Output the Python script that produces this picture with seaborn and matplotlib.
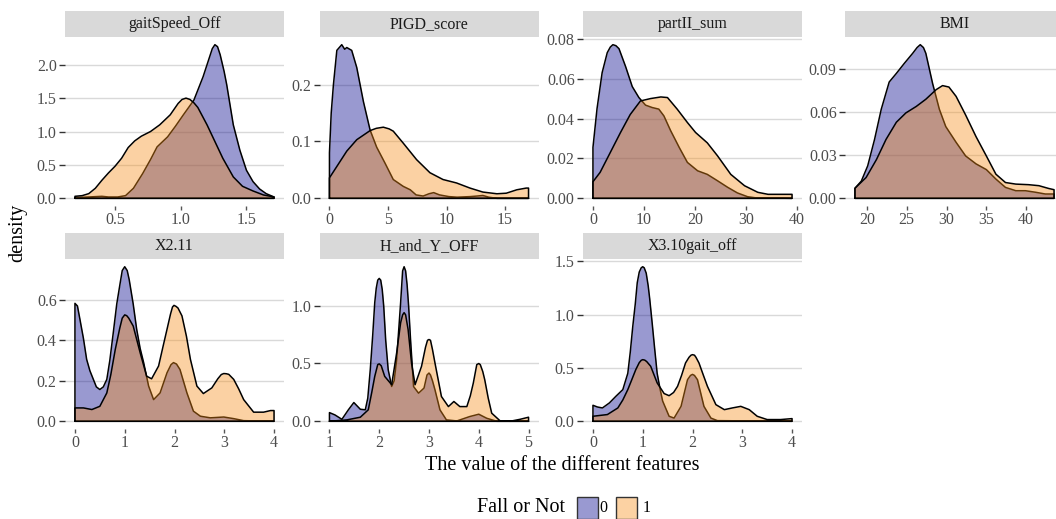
import matplotlib
matplotlib.use("Agg")
import matplotlib.pyplot as plt
from matplotlib.patches import Rectangle
import numpy as np
import pandas as pd
import seaborn as sns

# ---- density estimates per feature, group 0 (no fall) and group 1 (fall) ----
gait_x0 = [0.195, 0.30, 0.40, 0.45, 0.52, 0.58, 0.64, 0.71, 0.77, 0.82, 0.90, 0.96, 1.02, 1.10,
           1.17, 1.20, 1.22, 1.24, 1.26, 1.28, 1.30, 1.33, 1.35, 1.40, 1.45, 1.50, 1.55, 1.60,
           1.65, 1.71]
gait_d0 = [0.01, 0.02, 0.03, 0.02, 0.02, 0.04, 0.15, 0.37, 0.58, 0.77, 0.92, 1.08, 1.25, 1.47,
           1.82, 2.00, 2.12, 2.24, 2.30, 2.27, 2.15, 1.90, 1.70, 1.10, 0.72, 0.42, 0.25, 0.14,
           0.07, 0.02]
gait_x1 = [0.195, 0.25, 0.30, 0.35, 0.40, 0.45, 0.50, 0.55, 0.60, 0.65, 0.70, 0.77, 0.84, 0.92,
           0.98, 1.01, 1.04, 1.07, 1.10, 1.13, 1.20, 1.26, 1.32, 1.40, 1.47, 1.55, 1.63, 1.71]
gait_d1 = [0.03, 0.04, 0.07, 0.15, 0.27, 0.38, 0.48, 0.60, 0.76, 0.86, 0.93, 1.00, 1.10, 1.25,
           1.42, 1.48, 1.50, 1.48, 1.43, 1.36, 1.10, 0.85, 0.60, 0.32, 0.18, 0.11, 0.05, 0.02]

pigd_x0 = [0, 0.15, 0.34, 0.63, 1.05, 1.3, 1.48, 1.9, 2.33, 2.9, 3.47, 4.03, 4.74, 5.45, 6.3,
           6.9, 7.4, 8.0, 8.5, 8.9, 9.4, 10.2, 10.9, 12.0, 12.6, 13.1, 13.6, 14.3, 17]
pigd_d0 = [0.08, 0.15, 0.20, 0.26, 0.27, 0.262, 0.265, 0.26, 0.23, 0.17, 0.12, 0.09, 0.062, 0.033,
           0.021, 0.015, 0.006, 0.004, 0.008, 0.010, 0.006, 0.003, 0.002, 0.003, 0.004, 0.005,
           0.002, 0.0, 0.0]
pigd_x1 = [0, 0.63, 1.48, 2.33, 3.47, 4.0, 4.6, 5.1, 5.45, 6.3, 7.44, 8.58, 9.7, 10.85, 12, 13.1,
           14.3, 15.1, 16, 16.8, 17]
pigd_d1 = [0.036, 0.056, 0.083, 0.103, 0.119, 0.123, 0.125, 0.122, 0.118, 0.097, 0.068, 0.045,
           0.033, 0.027, 0.018, 0.011, 0.008, 0.009, 0.015, 0.018, 0.018]

part_x0 = [0, 0.8, 1.8, 2.8, 3.4, 3.9, 4.5, 5.1, 6.4, 7.7, 9, 10.3, 11.6, 12.9, 13.9, 15.2, 16.9,
           18.5, 20.5, 22.4, 24.4, 26.4, 28.3, 30.3, 32, 39]
part_d0 = [0.0255, 0.045, 0.063, 0.073, 0.0758, 0.077, 0.0765, 0.075, 0.066, 0.056, 0.0505,
           0.0467, 0.0455, 0.0447, 0.0413, 0.034, 0.0255, 0.018, 0.0138, 0.012, 0.0088, 0.0055,
           0.0027, 0.0008, 0.0002, 0.0]
part_x1 = [0, 1.4, 3.4, 5.4, 7.3, 9.3, 11.3, 13.3, 14.6, 16.5, 18.5, 20.1, 22.4, 24.4, 27, 29.7,
           32.3, 34.3, 39]
part_d1 = [0.0083, 0.013, 0.023, 0.033, 0.042, 0.0488, 0.050, 0.0508, 0.0505, 0.0447, 0.038,
           0.033, 0.0278, 0.0213, 0.012, 0.0063, 0.003, 0.002, 0.002]

bmi_x0 = [18.5, 19.3, 20.1, 20.96, 21.8, 22.8, 23.7, 24.7, 25.75, 26.3, 26.7, 27.1, 27.4, 28.25,
          29.1, 29.9, 31.2, 32.4, 33.7, 35, 36.2, 37.4, 38.7, 39.9, 41.2, 42.4, 43.5]
bmi_d0 = [0.007, 0.012, 0.0226, 0.041, 0.062, 0.081, 0.087, 0.094, 0.101, 0.105, 0.107, 0.105,
          0.101, 0.080, 0.062, 0.050, 0.039, 0.0295, 0.024, 0.020, 0.0134, 0.0076, 0.0053,
          0.0053, 0.0042, 0.003, 0.003]
bmi_x1 = [18.5, 19.9, 21.2, 22.4, 23.7, 24.9, 26.2, 27.4, 28.7, 29.5, 30.3, 31.2, 32.4, 33.7, 35,
          36.2, 37.4, 38.7, 40.3, 41.6, 42.8, 43.5]
bmi_d1 = [0.007, 0.0145, 0.027, 0.041, 0.053, 0.0595, 0.064, 0.069, 0.0757, 0.0785, 0.0775, 0.071,
          0.058, 0.043, 0.0295, 0.0168, 0.011, 0.0099, 0.0095, 0.0088, 0.0069, 0.006]

x211_x0 = [0, 0.05, 0.1, 0.17, 0.235, 0.3, 0.37, 0.43, 0.5, 0.57, 0.64, 0.7, 0.77, 0.84, 0.91,
           0.95, 1.0, 1.05, 1.09, 1.17, 1.24, 1.31, 1.38, 1.48, 1.58, 1.71, 1.85, 1.93, 1.98,
           2.04, 2.11, 2.25, 2.38, 2.52, 2.72, 2.99, 3.19, 3.39, 4]
x211_d0 = [0.583, 0.57, 0.504, 0.41, 0.306, 0.25, 0.207, 0.17, 0.157, 0.17, 0.207, 0.30, 0.438,
           0.58, 0.686, 0.745, 0.764, 0.745, 0.70, 0.58, 0.455, 0.36, 0.29, 0.174, 0.107, 0.14,
           0.24, 0.28, 0.29, 0.283, 0.256, 0.14, 0.05, 0.025, 0.017, 0.021, 0.013, 0.003, 0.0]
x211_x1 = [0, 0.17, 0.34, 0.5, 0.64, 0.72, 0.81, 0.9, 0.95, 1.0, 1.04, 1.08, 1.17, 1.31, 1.44,
           1.54, 1.68, 1.77, 1.85, 1.92, 1.96, 1.99, 2.03, 2.07, 2.15, 2.24, 2.32, 2.45, 2.58,
           2.75, 2.87, 2.94, 2.99, 3.04, 3.09, 3.19, 3.29, 3.39, 3.59, 3.79, 3.93, 4]
x211_d1 = [0.066, 0.066, 0.058, 0.074, 0.14, 0.23, 0.355, 0.46, 0.51, 0.526, 0.522, 0.51, 0.471,
           0.339, 0.223, 0.21, 0.273, 0.37, 0.455, 0.53, 0.565, 0.573, 0.568, 0.56, 0.521, 0.42,
           0.306, 0.174, 0.137, 0.165, 0.21, 0.231, 0.236, 0.235, 0.232, 0.207, 0.16, 0.107,
           0.045, 0.045, 0.053, 0.053]

hy_x0 = [1, 1.11, 1.25, 1.38, 1.49, 1.62, 1.72, 1.77, 1.82, 1.87, 1.91, 1.94, 1.97, 2.0, 2.03,
         2.06, 2.09, 2.13, 2.18, 2.25, 2.3, 2.35, 2.39, 2.43, 2.47, 2.5, 2.53, 2.56, 2.59, 2.63,
         2.69, 2.79, 2.9, 2.96, 3.0, 3.03, 3.07, 3.12, 3.22, 3.35, 3.56, 3.82, 4.0, 4.16, 4.36, 5]
hy_d0 = [0.075, 0.055, 0.017, 0.099, 0.162, 0.104, 0.099, 0.20, 0.446, 0.75, 1.026, 1.15, 1.22,
         1.235, 1.22, 1.14, 0.997, 0.70, 0.446, 0.301, 0.35, 0.533, 0.78, 1.026, 1.30, 1.336,
         1.30, 1.18, 1.00, 0.70, 0.30, 0.243, 0.287, 0.40, 0.417, 0.40, 0.35, 0.272, 0.099,
         0.012, 0.003, 0.041, 0.061, 0.026, 0.0, 0.0]
hy_x1 = [1, 1.35, 1.62, 1.78, 1.85, 1.91, 1.97, 2.0, 2.04, 2.11, 2.25, 2.35, 2.43, 2.47, 2.5,
         2.53, 2.58, 2.65, 2.72, 2.85, 2.93, 2.97, 3.0, 3.03, 3.07, 3.12, 3.25, 3.39, 3.5, 3.62,
         3.76, 3.83, 3.89, 3.96, 4.0, 4.03, 4.08, 4.12, 4.19, 4.26, 4.43, 4.63, 4.83, 5]
hy_d1 = [0.0, 0.012, 0.035, 0.099, 0.25, 0.388, 0.49, 0.496, 0.48, 0.388, 0.316, 0.591, 0.852,
         0.92, 0.939, 0.92, 0.794, 0.50, 0.316, 0.475, 0.64, 0.70, 0.707, 0.70, 0.62, 0.504,
         0.214, 0.127, 0.171, 0.127, 0.127, 0.22, 0.33, 0.49, 0.499, 0.49, 0.43, 0.359, 0.20,
         0.07, 0.003, 0.0, 0.017, 0.035]

gait310_x0 = [0, 0.09, 0.19, 0.33, 0.46, 0.6, 0.7, 0.75, 0.8, 0.85, 0.89, 0.93, 0.97, 1.0, 1.03,
              1.07, 1.11, 1.14, 1.19, 1.24, 1.29, 1.35, 1.4, 1.53, 1.63, 1.77, 1.9, 1.96, 2.0,
              2.04, 2.1, 2.23, 2.37, 2.5, 4]
gait310_d0 = [0.15, 0.134, 0.125, 0.172, 0.234, 0.297, 0.45, 0.65, 0.89, 1.10, 1.30, 1.40, 1.44,
              1.45, 1.44, 1.39, 1.27, 1.15, 0.92, 0.68, 0.45, 0.30, 0.19, 0.047, 0.03, 0.14,
              0.39, 0.43, 0.44, 0.43, 0.39, 0.14, 0.03, 0.006, 0.0]
gait310_x1 = [0, 0.29, 0.5, 0.6, 0.7, 0.78, 0.86, 0.93, 0.97, 1.0, 1.04, 1.08, 1.16, 1.29, 1.43,
              1.53, 1.62, 1.7, 1.78, 1.86, 1.93, 1.97, 2.0, 2.04, 2.07, 2.13, 2.22, 2.3, 2.47,
              2.64, 2.8, 2.97, 3.14, 3.3, 3.5, 3.77, 4]
gait310_d1 = [0.047, 0.063, 0.125, 0.20, 0.297, 0.39, 0.484, 0.55, 0.572, 0.578, 0.574, 0.56,
              0.516, 0.36, 0.26, 0.24, 0.27, 0.328, 0.43, 0.547, 0.60, 0.62, 0.625, 0.62, 0.60,
              0.547, 0.43, 0.328, 0.156, 0.109, 0.125, 0.14, 0.109, 0.047, 0.016, 0.016, 0.025]

features = ["gaitSpeed_Off", "PIGD_score", "partII_sum", "BMI",
            "X2.11", "H_and_Y_OFF", "X3.10gait_off"]
groups = ["0", "1"]

x_tick_values = [[0.5, 1.0, 1.5], [0, 5, 10, 15], [0, 10, 20, 30, 40], [20, 25, 30, 35, 40],
                 [0, 1, 2, 3, 4], [1, 2, 3, 4, 5], [0, 1, 2, 3, 4]]
y_tick_values = [[0.0, 0.5, 1.0, 1.5, 2.0], [0.0, 0.1, 0.2], [0.0, 0.02, 0.04, 0.06, 0.08],
                 [0.0, 0.03, 0.06, 0.09], [0.0, 0.2, 0.4, 0.6], [0.0, 0.5, 1.0],
                 [0.0, 0.5, 1.0, 1.5]]
x_tick_fmt = ["{:.1f}", "{:g}", "{:g}", "{:g}", "{:g}", "{:g}", "{:g}"]
y_tick_fmt = ["{:.1f}", "{:.1f}", "{:.2f}", "{:.2f}", "{:.1f}", "{:.1f}", "{:.1f}"]

curves = {
    "gaitSpeed_Off": [(gait_x0, gait_d0), (gait_x1, gait_d1)],
    "PIGD_score": [(pigd_x0, pigd_d0), (pigd_x1, pigd_d1)],
    "partII_sum": [(part_x0, part_d0), (part_x1, part_d1)],
    "BMI": [(bmi_x0, bmi_d0), (bmi_x1, bmi_d1)],
    "X2.11": [(x211_x0, x211_d0), (x211_x1, x211_d1)],
    "H_and_Y_OFF": [(hy_x0, hy_d0), (hy_x1, hy_d1)],
    "X3.10gait_off": [(gait310_x0, gait310_d0), (gait310_x1, gait310_d1)],
}

rows = []
for feat in features:
    for grp, (xs, ds) in zip(groups, curves[feat]):
        for xv, dv in zip(xs, ds):
            rows.append((feat, grp, xv, dv))
df = pd.DataFrame(rows, columns=["feature", "fall", "value", "density"])

# ---- styling ----
sns.set_theme(style="white")
plt.rcParams["font.family"] = ["Liberation Serif", "DejaVu Serif"]

fill_colors = {"0": "#00008b", "1": "#f78e19"}
ALPHA = 0.4

W, H = 1056, 519
fig = plt.figure(figsize=(W / 100, H / 100), dpi=100)
fig.patch.set_facecolor("white")

col_left = [65, 319.5, 583, 845]
panel_w = 219
row_top = [37, 259]
panel_h = [169, 170]
strip_h = 26


def px_axes(left, top, width, height):
    return fig.add_axes([left / W, 1 - (top + height) / H, width / W, height / H])


for i, feat in enumerate(features):
    r, c = divmod(i, 4)
    ax = px_axes(col_left[c], row_top[r], panel_w, panel_h[r])
    sub = df[df["feature"] == feat]

    # group 0 first, group 1 layered on top (fill, then its outline)
    for k, grp in enumerate(groups):
        g = sub[sub["fall"] == grp]
        ax.fill_between(g["value"], 0, g["density"], color=fill_colors[grp],
                        alpha=ALPHA, lw=0, zorder=2 + 2 * k)
        xs = g["value"].tolist()
        ds = g["density"].tolist()
        outline = pd.DataFrame({
            "value": [xs[0]] + xs + [xs[-1], xs[0]],
            "density": [0.0] + ds + [0.0, 0.0],
        })
        sns.lineplot(data=outline, x="value", y="density", sort=False, estimator=None,
                     color="black", lw=1.1, ax=ax, zorder=3 + 2 * k)

    xmin, xmax = sub["value"].min(), sub["value"].max()
    ymax = sub["density"].max()
    xr = xmax - xmin
    ax.set_xlim(xmin - 0.05 * xr, xmax + 0.05 * xr)
    ax.set_ylim(-0.05 * ymax, 1.05 * ymax)

    ax.set_xticks(x_tick_values[i])
    ax.set_xticklabels([x_tick_fmt[i].format(v) for v in x_tick_values[i]])
    ax.set_yticks(y_tick_values[i])
    ax.set_yticklabels([y_tick_fmt[i].format(v) for v in y_tick_values[i]])
    ax.set_xlabel("")
    ax.set_ylabel("")

    for sp in ax.spines.values():
        sp.set_visible(False)
    ax.set_facecolor("white")
    ax.yaxis.grid(True, color="#d9d9d9", lw=1.0, zorder=0)
    ax.xaxis.grid(False)
    ax.set_axisbelow(True)
    ax.tick_params(axis="y", length=4, width=1.0, color="#333333", labelcolor="#4d4d4d",
                   labelsize=11.5, pad=2, left=True)
    ax.tick_params(axis="x", length=3, width=1.0, color="#555555", labelcolor="#4d4d4d",
                   labelsize=11.5, pad=1, bottom=True)

    # facet strip
    sh = strip_h / panel_h[r]
    ax.add_patch(Rectangle((0, 1), 1, sh, transform=ax.transAxes, facecolor="#d9d9d9",
                           edgecolor="none", clip_on=False, zorder=5))
    ax.text(0.5, 1 + sh / 2, feat, transform=ax.transAxes, ha="center", va="center",
            fontsize=11.5, color="#1a1a1a", zorder=6)

# axis titles
fig.text(18 / W, 1 - 233 / H, "density", rotation=90, ha="center", va="center",
         fontsize=14.5, color="black")
fig.text(562 / W, 1 - 465 / H, "The value of the different features", ha="center",
         va="center", fontsize=14.5, color="black")


def blend(hex_color, alpha):
    rgb = np.array(matplotlib.colors.to_rgb(hex_color))
    return tuple(alpha * rgb + (1 - alpha) * np.ones(3))


# legend
fig.text(477 / W, 1 - 508 / H, "Fall or Not", ha="left", va="center", fontsize=14.5,
         color="black")
legend_boxes = {"0": (577, 603), "1": (616, 647)}
for grp in groups:
    bx, tx = legend_boxes[grp]
    fig.add_artist(Rectangle((bx / W, 1 - 519 / H), 21 / W, 22 / H, transform=fig.transFigure,
                             facecolor=blend(fill_colors[grp], ALPHA), edgecolor="#333333",
                             lw=1.0))
    fig.text(tx / W, 1 - 508 / H, grp, ha="center", va="center", fontsize=11.5, color="black")

fig.savefig("out.png", dpi=100, facecolor="white")
